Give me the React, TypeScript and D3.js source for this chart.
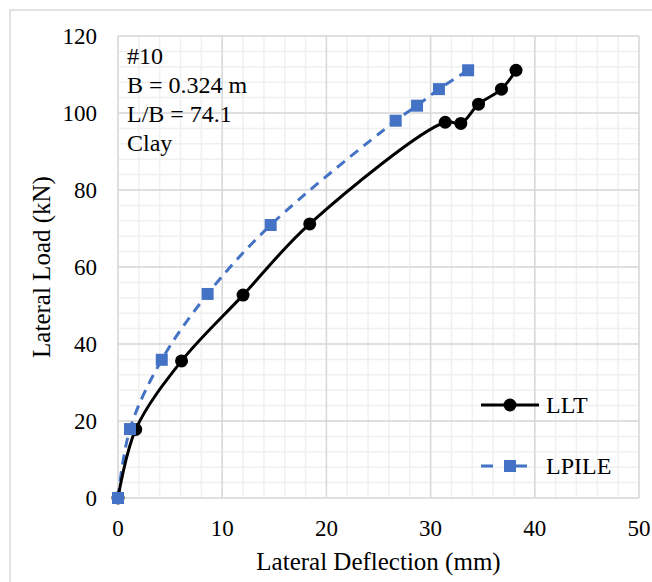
import React from "react";
import * as d3 from "d3";

const lltX = [0, 1.7, 6.1, 12.0, 18.4, 31.4, 32.9, 34.6, 36.8, 38.2];
const lltY = [0, 17.8, 35.6, 52.7, 71.2, 97.6, 97.3, 102.3, 106.2, 111.1];
const lpX = [0, 1.15, 4.2, 8.6, 14.65, 26.65, 28.7, 30.8, 33.6];
const lpY = [0, 17.9, 35.9, 53.0, 70.9, 98.0, 101.9, 106.2, 111.1];
const xTicks = [0, 10, 20, 30, 40, 50];
const yTicks = [0, 20, 40, 60, 80, 100, 120];
const annotation = ["#10", "B = 0.324 m", "L/B = 74.1", "Clay"];
const seriesNames = ["LLT", "LPILE"];

const W = 652, H = 582;
const L = 118, R = 639, T = 36, B = 498;
const FONT = "'Liberation Serif', 'Times New Roman', serif";
const BLUE = "#4472C4";

export default function App() {
  const x = d3.scaleLinear().domain([0, 50]).range([L, R]);
  const y = d3.scaleLinear().domain([0, 120]).range([B, T]);
  const minorX = d3.range(0, 50.001, 2);
  const minorY = d3.range(0, 120.001, 4);
  const line = d3
    .line<[number, number]>()
    .x((d) => x(d[0]))
    .y((d) => y(d[1]))
    .curve(d3.curveCatmullRom.alpha(0.5));
  const lltPts: [number, number][] = lltX.map((v, i) => [v, lltY[i]]);
  const lpPts: [number, number][] = lpX.map((v, i) => [v, lpY[i]]);
  const sq = 12;

  return (
    <svg width={W} height={H} style={{ position: "absolute", left: 0, top: 0 }}>
      <rect x={0} y={0} width={W} height={H} fill="#fff" />
      <rect x={10} y={10} width={W + 20} height={H + 20} fill="#fff" stroke="#d9d9d9" strokeWidth={1.5} />
      {minorX.map((v) => (
        <line key={"mx" + v} x1={x(v)} x2={x(v)} y1={T} y2={B} stroke="#f0f0f0" strokeWidth={1.5} />
      ))}
      {minorY.map((v) => (
        <line key={"my" + v} x1={L} x2={R} y1={y(v)} y2={y(v)} stroke="#f0f0f0" strokeWidth={1.5} />
      ))}
      {xTicks.map((v) => (
        <line key={"gx" + v} x1={x(v)} x2={x(v)} y1={T} y2={B} stroke="#d9d9d9" strokeWidth={1.5} />
      ))}
      {yTicks.map((v) => (
        <line key={"gy" + v} x1={L} x2={R} y1={y(v)} y2={y(v)} stroke="#d9d9d9" strokeWidth={1.5} />
      ))}
      <g fontFamily={FONT} fontSize={23} fill="#000">
        {xTicks.map((v) => (
          <text key={"tx" + v} x={x(v)} y={536} textAnchor="middle">{v}</text>
        ))}
        {yTicks.map((v) => (
          <text key={"ty" + v} x={97} y={y(v) + 7.5} textAnchor="end">{v}</text>
        ))}
      </g>
      <text x={(L + R) / 2} y={570} textAnchor="middle" fontFamily={FONT} fontSize={25}>
        Lateral Deflection (mm)
      </text>
      <text
        transform={`translate(50,${(T + B) / 2}) rotate(-90)`}
        textAnchor="middle"
        fontFamily={FONT}
        fontSize={25}
      >
        Lateral Load (kN)
      </text>
      <g fontFamily={FONT} fontSize={24}>
        {annotation.map((s, i) => (
          <text key={s} x={127} y={64 + i * 29}>{s}</text>
        ))}
      </g>
      <path d={line(lpPts) || ""} fill="none" stroke={BLUE} strokeWidth={3} strokeDasharray="10,7" />
      <path d={line(lltPts) || ""} fill="none" stroke="#000" strokeWidth={3} />
      {lltPts.map((p, i) => (
        <circle key={"c" + i} cx={x(p[0])} cy={y(p[1])} r={6.5} fill="#000" />
      ))}
      {lpPts.map((p, i) => (
        <rect key={"s" + i} x={x(p[0]) - sq / 2} y={y(p[1]) - sq / 2} width={sq} height={sq} fill={BLUE} />
      ))}
      <g>
        <line x1={481} x2={539} y1={405} y2={405} stroke="#000" strokeWidth={3} />
        <circle cx={510} cy={405} r={6.5} fill="#000" />
        <text x={546} y={413} fontFamily={FONT} fontSize={24}>{seriesNames[0]}</text>
        <line x1={481} x2={539} y1={466} y2={466} stroke={BLUE} strokeWidth={3} strokeDasharray="12,22" />
        <rect x={510 - sq / 2} y={466 - sq / 2} width={sq} height={sq} fill={BLUE} />
        <text x={546} y={474} fontFamily={FONT} fontSize={24}>{seriesNames[1]}</text>
      </g>
    </svg>
  );
}
